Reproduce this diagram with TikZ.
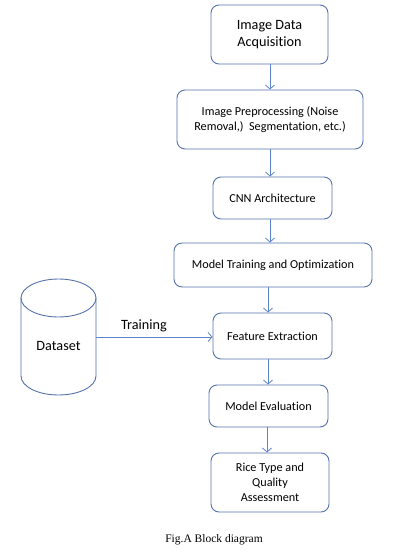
\documentclass[tikz,border=0pt]{standalone}
\usepackage{fontspec}
\setmainfont[Ligatures=NoCommon]{Carlito}
\newfontfamily\capfont{Liberation Serif}
\usetikzlibrary{arrows.meta}
\definecolor{boxline}{RGB}{84,114,172}
\definecolor{arrline}{RGB}{92,132,204}
\tikzset{
  box/.style={draw=boxline, line width=0.9pt, rounded corners=8pt, align=center,
    font=\fontsize{12.2}{15}\selectfont, inner sep=2pt},
  bigtext/.style={font=\fontsize{14.2}{17}\selectfont},
  arr/.style={draw=arrline, line width=0.8pt, -{Straight Barb[length=4pt,width=9pt,line width=0.8pt]}},
}
\begin{document}
\begin{tikzpicture}[x=1pt,y=-1pt]
\useasboundingbox (0,0) rectangle (403,552);
\node[box, bigtext, minimum width=117pt, minimum height=59pt] (b1) at (269.5,34.5) {Image Data\\Acquisition};
\node[box, minimum width=186pt, minimum height=59pt] (b2) at (270,119.5) {Image Preprocessing (Noise\\Removal,)\ \ Segmentation, etc.)};
\node[box, minimum width=119pt, minimum height=42pt] (b3) at (272.5,198) {CNN Architecture};
\node[box, minimum width=198pt, minimum height=44pt] (b4) at (273,265) {Model Training and Optimization};
\node[box, minimum width=119pt, minimum height=46pt] (b5) at (272.5,336) {Feature Extraction};
\node[box, minimum width=119pt, minimum height=42pt] (b6) at (268.5,406) {Model Evaluation};
\node[box, minimum width=118pt, minimum height=59pt] (b7) at (270,482.5) {Rice Type and\\Quality\\Assessment};
% dataset cylinder
\node[minimum width=75pt, minimum height=116pt, inner sep=0pt] (ds) at (58.5,337) {};
\draw[boxline, line width=0.9pt] (58.5,298) ellipse[x radius=37.5, y radius=19];
\draw[boxline, line width=0.9pt] (21,298) -- (21,376) arc[start angle=180, end angle=0, x radius=37.5, y radius=19] -- (96,298);
\node[bigtext] (dst) at (58.5,346) {Dataset};
% arrow x positions
\coordinate (x1) at (270,0);
\coordinate (x2) at (270,0);
\coordinate (x3) at (270,0);
\coordinate (x4) at (268,0);
\coordinate (x5) at (268,0);
\coordinate (x6) at (267,0);
\draw[arr] (b1.south -| x1) -- (b2.north -| x1);
\draw[arr] (b2.south -| x2) -- (b3.north -| x2);
\draw[arr] (b3.south -| x3) -- (b4.north -| x3);
\draw[arr] (b4.south -| x4) -- (b5.north -| x4);
\draw[arr] (b5.south -| x5) -- (b6.north -| x5);
\draw[arr] (b6.south -| x6) -- (b7.north -| x6);
\draw[arr] (ds.east) -- (b5.west |- ds.east);
\node[bigtext] (tr) at (144,326) {Training};
\node[font=\capfont\fontsize{11.5}{14}\selectfont] (cap) at (214,540) {Fig.A Block diagram};
\end{tikzpicture}
\end{document}
